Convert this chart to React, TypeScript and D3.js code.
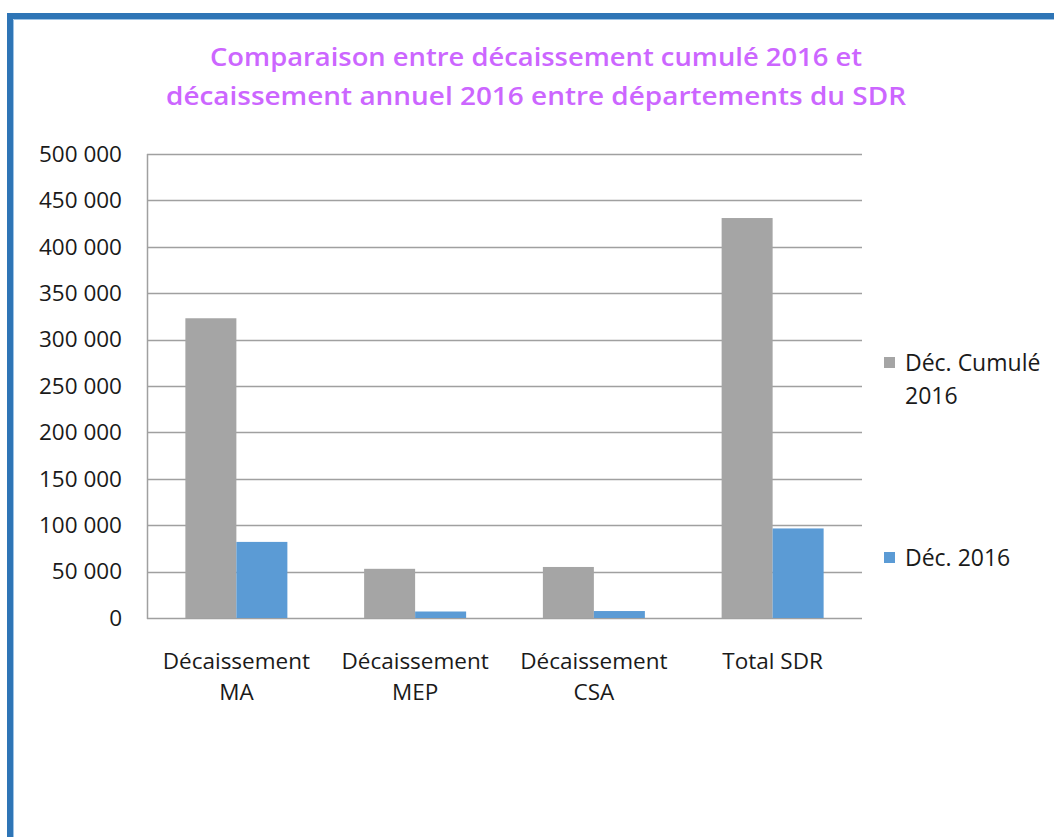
import React, { useEffect } from "react";
import * as d3 from "d3";

const categories = [["Décaissement", "MA"], ["Décaissement", "MEP"], ["Décaissement", "CSA"], ["Total SDR"]];
const categoryKeys = ["MA", "MEP", "CSA", "Total SDR"];
const seriesNames = ["Déc. Cumulé 2016", "Déc. 2016"];
const cumule2016 = [323000, 53000, 55000, 431000];
const dec2016 = [82000, 7000, 7500, 96500];
const yTicks = [0, 50000, 100000, 150000, 200000, 250000, 300000, 350000, 400000, 450000, 500000];
const titleLines = [
  "Comparaison entre décaissement cumulé 2016 et",
  "décaissement annuel 2016 entre départements du SDR",
];
const colors = ["#A5A5A5", "#5B9BD5"];

const W = 1054;
const H = 837;
const FONT = "'Open Sans', 'DejaVu Sans', sans-serif";

export default function App() {
  useEffect(() => {
    document.body.style.margin = "0";
  }, []);

  const y = d3.scaleLinear().domain([0, 500000]).range([618, 154]);
  const x0 = d3.scaleBand<string>().domain(categoryKeys).range([147, 862]).padding(0);
  const x1 = d3
    .scaleBand<string>()
    .domain(seriesNames)
    .range([0, x0.step()])
    .paddingInner(0)
    .paddingOuter(0.7525);
  const seriesData = [cumule2016, dec2016];
  const fmt = d3.formatLocale({ decimal: ",", thousands: " ", grouping: [3], currency: ["", "€"] }).format(",d");
  const titleWidths = [652, 740];

  return (
    <svg width={W} height={H} style={{ display: "block", background: "#fff" }}>
      <path d={`M10,${H} L10,16 L${W},16`} fill="none" stroke="#2E75B6" strokeWidth={6} />
      <path d={`M13.5,${H} L13.5,19.5 L${W},19.5`} fill="none" stroke="#9DC3E6" strokeWidth={1} />

      <g fontFamily={FONT} fill="#CC66FF" fontSize={25} fontWeight={600} textAnchor="middle">
        {titleLines.map((t, i) => (
          <text key={i} x={536} y={66 + i * 39} textLength={titleWidths[i]} lengthAdjust="spacingAndGlyphs">
            {t}
          </text>
        ))}
      </g>

      <g>
        {yTicks.map((t) => (
          <line key={t} x1={147} x2={862} y1={Math.round(y(t)) + 0.5} y2={Math.round(y(t)) + 0.5} stroke="#A0A0A0" strokeWidth={1.5} />
        ))}
        <line x1={147.5} x2={147.5} y1={y(500000)} y2={y(0) + 1} stroke="#A0A0A0" strokeWidth={1.5} />
      </g>

      <g fontFamily={FONT} fontSize={22.5} fill="#1a1a1a" textAnchor="end">
        {yTicks.map((t) => (
          <text key={t} x={122} y={y(t) + 7.8}>
            {fmt(t)}
          </text>
        ))}
      </g>

      <g>
        {categoryKeys.map((c, ci) =>
          seriesNames.map((s, si) => {
            const v = seriesData[si][ci];
            return (
              <rect
                key={c + s}
                x={(x0(c) as number) + (x1(s) as number)}
                y={y(v)}
                width={x1.bandwidth()}
                height={y(0) - y(v)}
                fill={colors[si]}
              />
            );
          })
        )}
      </g>

      <g fontFamily={FONT} fontSize={22.5} fill="#1a1a1a" textAnchor="middle">
        {categoryKeys.map((c, ci) => (
          <text key={c} x={(x0(c) as number) + x0.bandwidth() / 2} y={669}>
            {categories[ci].map((l, li) => (
              <tspan key={li} x={(x0(c) as number) + x0.bandwidth() / 2} dy={li === 0 ? 0 : 31}>
                {l}
              </tspan>
            ))}
          </text>
        ))}
      </g>

      <g fontFamily={FONT} fontSize={23} fill="#1a1a1a">
        <rect x={884} y={357} width={11} height={11} fill={colors[0]} />
        <text x={905} y={371}>
          <tspan x={905}>Déc. Cumulé</tspan>
          <tspan x={905} dy={33}>2016</tspan>
        </text>
        <rect x={884} y={552} width={11} height={11} fill={colors[1]} />
        <text x={905} y={566}>Déc. 2016</text>
      </g>
    </svg>
  );
}
